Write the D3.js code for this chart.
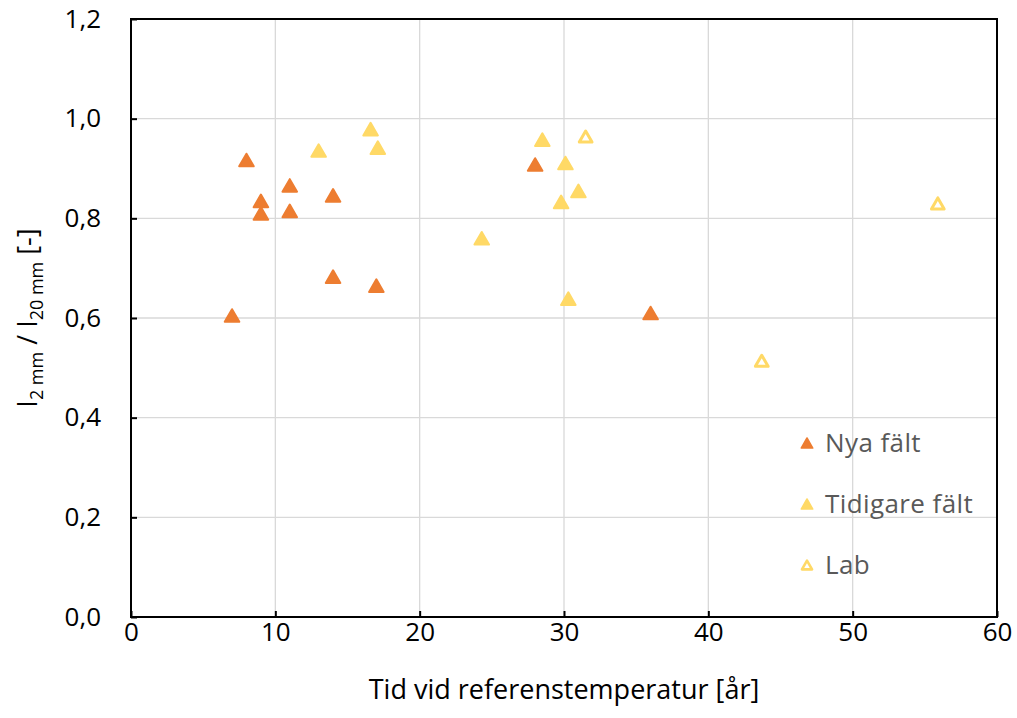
<!DOCTYPE html>
<html>
<head>
<meta charset="utf-8">
<script src="https://cdn.jsdelivr.net/npm/d3@7"></script>
<style>
  html, body { margin: 0; padding: 0; background: #fff; }
  svg { display: block; }
</style>
</head>
<body>
<svg id="chart" width="1017" height="718"></svg>
<script>
// Nya fält (new field samples)
const nyaX = [7, 8, 9, 9, 11, 11, 14, 14, 17, 28, 36];
const nyaY = [0.605, 0.917, 0.835, 0.810, 0.866, 0.815, 0.846, 0.683, 0.665, 0.908, 0.610];

// Tidigare fält (earlier field samples)
const tidX = [13.0, 16.6, 17.1, 24.3, 28.5, 30.1, 31.0, 29.8, 30.3];
const tidY = [0.936, 0.979, 0.942, 0.760, 0.958, 0.911, 0.855, 0.833, 0.639];

// Lab samples
const labX = [31.5, 43.7, 55.9];
const labY = [0.964, 0.514, 0.830];

const xTicks = [0, 10, 20, 30, 40, 50, 60];
const yTicks = [0, 0.2, 0.4, 0.6, 0.8, 1.0, 1.2];

const seriesNames = ["Nya fält", "Tidigare fält", "Lab"];

const ORANGE = "#ED7D31";
const YELLOW = "#FFD966";

const svg = d3.select("#chart");
const font = "'Open Sans', 'Noto Sans', sans-serif";

const m = { left: 131, right: 997, top: 19, bottom: 617 };
const x = d3.scaleLinear().domain([0, 60]).range([m.left, m.right]);
const y = d3.scaleLinear().domain([0, 1.2]).range([m.bottom, m.top]);

// gridlines
const grid = svg.append("g").attr("stroke", "#d9d9d9").attr("stroke-width", 1.3);
grid.selectAll("line.v").data(xTicks.slice(1, -1)).join("line")
  .attr("class", "v")
  .attr("x1", d => x(d)).attr("x2", d => x(d))
  .attr("y1", m.top).attr("y2", m.bottom);
grid.selectAll("line.h").data(yTicks.slice(1, -1)).join("line")
  .attr("class", "h")
  .attr("x1", m.left).attr("x2", m.right)
  .attr("y1", d => y(d)).attr("y2", d => y(d));

// axes with inward ticks
const fmtY = d => d3.format(".1f")(d).replace(".", ",");
const yAxis = d3.axisLeft(y).tickValues(yTicks).tickFormat(fmtY).tickSizeInner(-6).tickSizeOuter(0).tickPadding(30);
const xAxis = d3.axisBottom(x).tickValues(xTicks).tickFormat(d3.format("d")).tickSizeInner(-6).tickSizeOuter(0).tickPadding(6);

const gy = svg.append("g").attr("transform", `translate(${m.left},0)`).call(yAxis);
const gx = svg.append("g").attr("transform", `translate(0,${m.bottom})`).call(xAxis);
[gx, gy].forEach(g => {
  g.select(".domain").remove();
  g.selectAll(".tick line").attr("stroke", "#000").attr("stroke-width", 2);
  g.selectAll(".tick text").attr("fill", "#000").attr("font-family", font).attr("font-size", 26);
});
gx.selectAll(".tick text").attr("dy", "0.71em");

// frame
svg.append("rect")
  .attr("x", m.left).attr("y", m.top)
  .attr("width", m.right - m.left).attr("height", m.bottom - m.top)
  .attr("fill", "none").attr("stroke", "#000").attr("stroke-width", 2);

// markers: triangles centred on their bounding box
const tri = d3.symbol().type(d3.symbolTriangle);
const triOffset = size => Math.sqrt(size * Math.sqrt(3)) / 6;
const plot = svg.append("g");

function drawSeries(xs, ys, color, hollow) {
  const size = hollow ? 70 : 92;
  plot.append("g").selectAll("path").data(xs.map((v, i) => [v, ys[i]])).join("path")
    .attr("d", tri.size(size)())
    .attr("transform", d => `translate(${x(d[0])},${y(d[1]) + triOffset(size)})`)
    .attr("fill", hollow ? "#fff" : color)
    .attr("stroke", color)
    .attr("stroke-width", hollow ? 3 : 2)
    .attr("stroke-linejoin", "round");
}
drawSeries(nyaX, nyaY, ORANGE, false);
drawSeries(tidX, tidY, YELLOW, false);
drawSeries(labX, labY, YELLOW, true);

// legend
const legend = svg.append("g");
const legendY = [443, 504, 565];
const legendStyle = [[ORANGE, false], [YELLOW, false], [YELLOW, true]];
seriesNames.forEach((name, i) => {
  const [c, hollow] = legendStyle[i];
  const size = hollow ? 44 : 58;
  legend.append("path")
    .attr("d", tri.size(size)())
    .attr("transform", `translate(807,${legendY[i] + triOffset(size)})`)
    .attr("fill", hollow ? "#fff" : c)
    .attr("stroke", c)
    .attr("stroke-width", hollow ? 2.6 : 1.5)
    .attr("stroke-linejoin", "round");
  legend.append("text")
    .attr("x", 825).attr("y", legendY[i])
    .attr("dy", "0.35em")
    .attr("font-family", font).attr("font-size", 26)
    .attr("letter-spacing", 0.4)
    .attr("fill", "#595959")
    .text(name);
});

// x axis title
svg.append("text")
  .attr("x", (m.left + m.right) / 2).attr("y", 699)
  .attr("text-anchor", "middle")
  .attr("font-family", font).attr("font-size", 27)
  .attr("fill", "#000")
  .text("Tid vid referenstemperatur [år]");

// y axis title with subscripts
const yt = svg.append("text")
  .attr("transform", `translate(37,${(m.top + m.bottom) / 2}) rotate(-90)`)
  .attr("text-anchor", "middle")
  .attr("font-family", font).attr("font-size", 27)
  .attr("fill", "#000");
yt.append("tspan").text("I");
yt.append("tspan").attr("font-size", 18).attr("dy", 6).text("2 mm");
yt.append("tspan").attr("dy", -6).text(" / I");
yt.append("tspan").attr("font-size", 18).attr("dy", 6).text("20 mm");
yt.append("tspan").attr("dy", -6).text(" [-]");
</script>
</body>
</html>
